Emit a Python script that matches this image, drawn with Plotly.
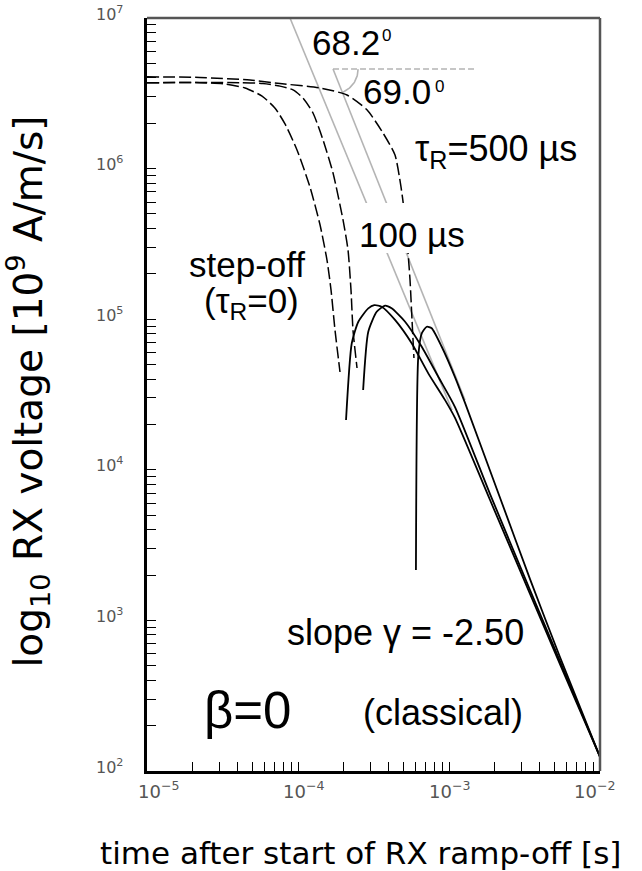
import numpy as np
import plotly.graph_objects as go

# ---------------- data ----------------
# step-off (tau_R = 0): negative part (dashed) and positive part (solid)
t_step_neg = [1.0e-5, 2.24e-5, 3.29e-5, 4.46e-5, 5.78e-5, 7.05e-5, 8.20e-5, 9.85e-5,
              1.20e-4, 1.40e-4, 1.556e-4, 1.655e-4, 1.758e-4, 1.897e-4]
v_step_neg = [3.72e6, 3.72e6, 3.65e6, 3.43e6, 3.03e6, 2.52e6, 1.98e6, 1.33e6,
              7.55e5, 4.22e5, 2.47e5, 1.56e5, 8.47e4, 4.46e4]
t_step_pos = [2.08e-4, 2.27e-4, 2.51e-4, 2.92e-4, 3.20e-4, 3.58e-4, 4.39e-4, 5.66e-4,
              7.29e-4, 9.42e-4, 1.096e-3, 1.87e-3, 3.44e-3, 5.43e-3, 1.0e-2]
v_step_pos = [2.14e4, 6.92e4, 9.62e4, 1.18e5, 1.24e5, 1.21e5, 9.89e4, 6.92e4,
              4.37e4, 2.90e4, 2.21e4, 6.30e3, 1.50e3, 513, 124]

# ramp 100 us
t_100_neg = [1.0e-5, 4.13e-5, 5.86e-5, 7.60e-5, 9.27e-5, 1.079e-4, 1.257e-4, 1.465e-4,
             1.706e-4, 1.987e-4, 2.144e-4, 2.244e-4, 2.313e-4, 2.46e-4]
v_100_neg = [3.72e6, 3.72e6, 3.67e6, 3.53e6, 3.33e6, 2.94e6, 2.34e6, 1.55e6,
             9.35e5, 4.56e5, 2.88e5, 1.56e5, 8.47e4, 4.74e4]
t_100_pos = [2.70e-4, 2.92e-4, 3.32e-4, 3.77e-4, 4.17e-4, 5.12e-4, 6.60e-4, 8.49e-4,
             1.096e-3, 1.87e-3, 3.44e-3, 5.43e-3, 1.0e-2]
v_100_pos = [3.39e4, 8.26e4, 1.12e5, 1.23e5, 1.18e5, 9.62e4, 6.56e4, 4.15e4,
             2.61e4, 6.90e3, 1.59e3, 537, 124]

# ramp 500 us
t_500_neg = [1.0e-5, 2.24e-5, 4.81e-5, 7.60e-5, 1.40e-4, 2.11e-4, 2.87e-4, 3.66e-4,
             4.39e-4, 4.81e-4, 5.04e-4, 5.27e-4, 5.52e-4, 5.69e-4, 5.86e-4]
v_500_neg = [4.07e6, 4.03e6, 3.87e6, 3.67e6, 3.43e6, 3.08e6, 2.45e6, 1.72e6,
             1.23e6, 7.55e5, 5.31e5, 3.36e5, 1.82e5, 9.89e4, 5.52e4]
t_500_pos = [6.04e-4, 6.26e-4, 6.60e-4, 7.12e-4, 7.68e-4, 8.95e-4, 1.096e-3, 1.277e-3,
             2.18e-3, 3.44e-3, 5.43e-3, 1.0e-2]
v_500_pos = [2.16e3, 5.64e4, 8.05e4, 8.91e4, 8.71e4, 6.56e4, 4.13e4, 2.78e4,
             6.50e3, 1.88e3, 571, 124]

# grey late-time asymptotes (end points)
t_asym1 = [8.85e-5, 1.047e-3]
v_asym1 = [1.0e7, 2.49e4]
t_asym2 = [1.706e-4, 1.277e-3]
v_asym2 = [4.58e6, 2.90e4]
# grey horizontal reference line
t_href = [1.706e-4, 1.486e-3]
v_href = [4.58e6, 4.58e6]
# angle arc: centre, radius (decades) and sweep (deg)
arc_center = (1.706e-4, 4.58e6)
arc_radius = 0.166
arc_sweep = 68.3

x_tickvals = [1e-5, 1e-4, 1e-3, 1e-2]
x_ticktext = ["10<sup>\u22125</sup>", "10<sup>\u22124</sup>", "10<sup>\u22123</sup>", "10<sup>\u22122</sup>"]
y_tickvals = [1e2, 1e3, 1e4, 1e5, 1e6, 1e7]
y_ticktext = ["10<sup>2</sup>", "10<sup>3</sup>", "10<sup>4</sup>", "10<sup>5</sup>",
              "10<sup>6</sup>", "10<sup>7</sup>"]

# ---------------- figure ----------------
W, H = 642, 871
L, R, T, B = 147, 600, 18, 771  # plot area in pixels


def pxx(x):
    return (x - L) / (R - L)


def pxy(y):
    return (B - y) / (B - T)


fig = go.Figure()

grey = "#b4b4b4"
dash_style = "12px,4px"

# grey asymptotes
for tx, vy in [(t_asym1, v_asym1), (t_asym2, v_asym2)]:
    fig.add_trace(go.Scatter(x=tx, y=vy, mode="lines",
                             line=dict(color=grey, width=1.6), hoverinfo="skip"))
fig.add_trace(go.Scatter(x=t_href, y=v_href, mode="lines",
                         line=dict(color=grey, width=1.6, dash="6px,3px"), hoverinfo="skip"))
th = np.radians(np.linspace(0, arc_sweep, 30))
ax_ = np.log10(arc_center[0]) + arc_radius * np.cos(th)
ay_ = np.log10(arc_center[1]) - arc_radius * np.sin(th)
fig.add_trace(go.Scatter(x=10 ** ax_, y=10 ** ay_, mode="lines",
                         line=dict(color=grey, width=1.6), hoverinfo="skip"))

# dashed (negative) branches
for tx, vy in [(t_step_neg, v_step_neg), (t_100_neg, v_100_neg), (t_500_neg, v_500_neg)]:
    fig.add_trace(go.Scatter(x=tx, y=vy, mode="lines",
                             line=dict(color="black", width=1.5, dash=dash_style,
                                       shape="spline", smoothing=0.6)))
# solid (positive) branches
for tx, vy in [(t_step_pos, v_step_pos), (t_100_pos, v_100_pos), (t_500_pos, v_500_pos)]:
    fig.add_trace(go.Scatter(x=tx, y=vy, mode="lines",
                             line=dict(color="black", width=1.8,
                                       shape="spline", smoothing=0.6)))

fig.update_xaxes(type="log", range=[-5, -2], showgrid=False, zeroline=False,
                 showline=True, linecolor="black", linewidth=3,
                 ticks="inside", ticklen=9, tickwidth=1.2, tickcolor="black",
                 tickvals=x_tickvals, showticklabels=False,
                 minor=dict(ticks="inside", ticklen=9, tickwidth=1.2, tickcolor="black",
                            tickmode="array",
                            tickvals=[m * 10 ** e for e in (-5, -4, -3) for m in range(2, 10)]))
fig.update_yaxes(type="log", range=[2, 7], showgrid=False, zeroline=False,
                 showline=True, linecolor="black", linewidth=3,
                 ticks="inside", ticklen=9, tickwidth=1.2, tickcolor="black",
                 tickvals=y_tickvals, showticklabels=False,
                 minor=dict(ticks="inside", ticklen=9, tickwidth=1.2, tickcolor="black",
                            tickmode="array",
                            tickvals=[m * 10 ** e for e in (2, 3, 4, 5, 6) for m in range(2, 10)]))

shapes = [
    dict(type="line", xref="paper", yref="paper", x0=0, x1=1, y0=1, y1=1,
         line=dict(color="#555555", width=2.5)),
    dict(type="line", xref="paper", yref="paper", x0=1, x1=1, y0=0, y1=1,
         line=dict(color="#555555", width=2.5)),
    # white mask behind "100 us" label
    dict(type="rect", xref="paper", yref="paper", layer="above",
         x0=pxx(352), x1=pxx(470), y0=pxy(253), y1=pxy(203),
         fillcolor="white", line=dict(width=0)),
]

LF = "Liberation Sans"


def ann(text, x, y, size, family=LF, color="black", **kw):
    d = dict(text=text, x=pxx(x), y=pxy(y), xref="paper", yref="paper",
             showarrow=False, xanchor="center", yanchor="middle",
             font=dict(family=family, size=size, color=color))
    d.update(kw)
    return d


annotations = [
    ann("68.2", 346, 43, 35),
    ann("0", 386.5, 36, 17),
    ann("69.0", 397, 91, 35),
    ann("0", 439.5, 86, 17),
    ann("\u03c4<sub>R</sub>=500 \u00b5s", 496, 151, 36),
    ann("100 \u00b5s", 412, 235, 35),
    ann("step-off", 246.5, 264, 35),
    ann("(\u03c4<sub>R</sub>=0)", 251, 303, 35),
    ann("slope \u03b3 = -2.50", 405, 632, 36),
    ann("(classical)", 442.5, 712, 36),
    ann("\u03b2=0", 247.5, 710, 51),
    ann("time after start of RX ramp-off [s]", 360, 853, 31, family="DejaVu Sans"),
    ann("log<sub>10</sub> RX voltage [10<sup>9</sup> A/m/s]", 28.5, 392, 39,
        family="DejaVu Sans", textangle=-90),
]

# tick labels drawn on the axes' own coordinates
x_tickfont = dict(family="DejaVu Sans", size=18, color="#555555")
y_tickfont = dict(family="DejaVu Sans", size=16, color="#555555")
x_label_shift = [11, 5, 0, -6]
for tv, tt, sh in zip(x_tickvals, x_ticktext, x_label_shift):
    annotations.append(dict(text=tt, x=np.log10(tv), xref="x", y=pxy(790), yref="paper",
                            showarrow=False, xanchor="center", yanchor="middle",
                            xshift=sh, font=x_tickfont))
for tv, tt in zip(y_tickvals, y_ticktext):
    annotations.append(dict(text=tt, x=pxx(125), xref="paper", y=np.log10(tv), yref="y",
                            showarrow=False, xanchor="right", yanchor="middle",
                            yshift=5, font=y_tickfont))

fig.update_layout(width=W, height=H, margin=dict(l=L, r=W - R, t=T, b=H - B, pad=0),
                  paper_bgcolor="white", plot_bgcolor="white", showlegend=False,
                  shapes=shapes, annotations=annotations)

fig.write_html("out.html")
